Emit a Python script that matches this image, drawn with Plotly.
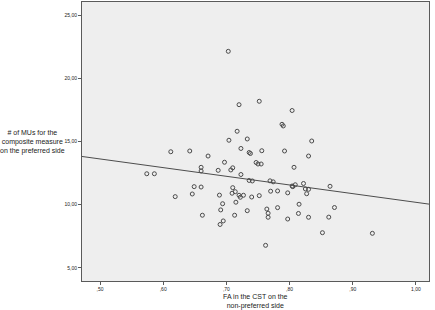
import plotly.graph_objects as go

# FA in the CST on the non-preferred side
fa_values = [
    0.703, 0.720, 0.752, 0.788, 0.790, 0.804, 0.717, 0.704, 0.733, 0.835,
    0.723, 0.612, 0.642, 0.736, 0.738, 0.756, 0.792, 0.830, 0.671, 0.697,
    0.747, 0.750, 0.755, 0.807, 0.660, 0.660, 0.687, 0.707, 0.710, 0.723,
    0.574, 0.586, 0.736, 0.741, 0.769, 0.774, 0.809, 0.822, 0.805, 0.804,
    0.825, 0.830, 0.864, 0.649, 0.660, 0.710, 0.714, 0.709, 0.646, 0.619,
    0.689, 0.720, 0.722, 0.727, 0.740, 0.752, 0.770, 0.781, 0.797, 0.827,
    0.694, 0.715, 0.815, 0.871, 0.691, 0.733, 0.764, 0.781, 0.766, 0.814,
    0.662, 0.713, 0.766, 0.797, 0.830, 0.862, 0.695, 0.690, 0.852, 0.931,
    0.762,
]
# # of MUs for the composite measure on the preferred side
mu_values = [
    22.13, 17.91, 18.18, 16.36, 16.23, 17.45, 15.81, 15.10, 15.20, 15.04,
    14.45, 14.19, 14.25, 14.13, 14.05, 14.27, 14.25, 13.85, 13.85, 13.36,
    13.34, 13.22, 13.22, 12.96, 12.96, 12.67, 12.72, 12.75, 12.92, 12.39,
    12.45, 12.45, 11.92, 11.88, 11.89, 11.81, 11.58, 11.68, 11.43, 11.48,
    11.25, 11.22, 11.46, 11.43, 11.40, 11.35, 11.03, 10.91, 10.85, 10.64,
    10.76, 10.75, 10.59, 10.75, 10.61, 10.72, 11.07, 11.09, 10.94, 10.87,
    10.08, 10.20, 10.04, 9.78, 9.59, 9.53, 9.66, 9.77, 9.33, 9.31,
    9.17, 9.17, 9.01, 8.87, 9.01, 9.02, 8.72, 8.44, 7.79, 7.74,
    6.79,
]

# fit line (total)
fit_intercept = 17.05
fit_slope = -6.86

x_ticks = [0.5, 0.6, 0.7, 0.8, 0.9, 1.0]
x_tick_labels = [",50", ",60", ",70", ",80", ",90", "1,00"]
y_ticks = [5, 10, 15, 20, 25]
y_tick_labels = ["5,00", "10,00", "15,00", "20,00", "25,00"]

x_range = [0.4715, 1.0206]
y_range = [3.97, 26.03]

axis_col = "#5a5a5a"
text_col = "#222222"
font_family = "Liberation Sans, Arial, sans-serif"

fig = go.Figure()
fig.add_trace(go.Scatter(
    x=x_range,
    y=[fit_intercept + fit_slope * v for v in x_range],
    mode="lines",
    line=dict(color="#4d4d4d", width=1),
    hoverinfo="skip",
    showlegend=False,
))
fig.add_trace(go.Scatter(
    x=fa_values, y=mu_values,
    mode="markers",
    marker=dict(symbol="circle-open", size=4, color="#4a4a4a",
                line=dict(width=1, color="#4a4a4a")),
    showlegend=False,
))

fig.update_layout(
    width=435, height=310,
    margin=dict(l=82, r=6, t=2, b=29),
    paper_bgcolor="white",
    plot_bgcolor="#eeeeee",
    font=dict(family=font_family, color=text_col),
    xaxis=dict(
        range=x_range, tickvals=x_ticks, ticktext=x_tick_labels,
        showgrid=False, zeroline=False,
        showline=True, mirror=True, linecolor=axis_col, linewidth=1,
        ticks="outside", ticklen=3, tickcolor=axis_col, tickwidth=1,
        tickfont=dict(size=5, color=text_col),
    ),
    yaxis=dict(
        range=y_range, tickvals=y_ticks, ticktext=y_tick_labels,
        showgrid=False, zeroline=False,
        showline=True, mirror=True, linecolor=axis_col, linewidth=1,
        ticks="outside", ticklen=3, tickcolor=axis_col, tickwidth=1,
        tickfont=dict(size=5, color=text_col),
    ),
    annotations=[
        dict(text="FA in the CST on the<br>non-preferred side",
             xref="paper", yref="paper", x=0.5, y=-0.036,
             xanchor="center", yanchor="top", showarrow=False,
             font=dict(size=7, color=text_col), align="center"),
        dict(text="# of MUs for the<br>composite measure<br>on the preferred side",
             xref="paper", yref="paper", x=-0.143, y=0.498,
             xanchor="center", yanchor="middle", showarrow=False,
             font=dict(size=7, color=text_col), align="center"),
    ],
)

fig.write_html("out.html",
               config={"displayModeBar": False},
               post_script="document.body.style.margin='0';"
                           "document.body.style.overflow='hidden';")
